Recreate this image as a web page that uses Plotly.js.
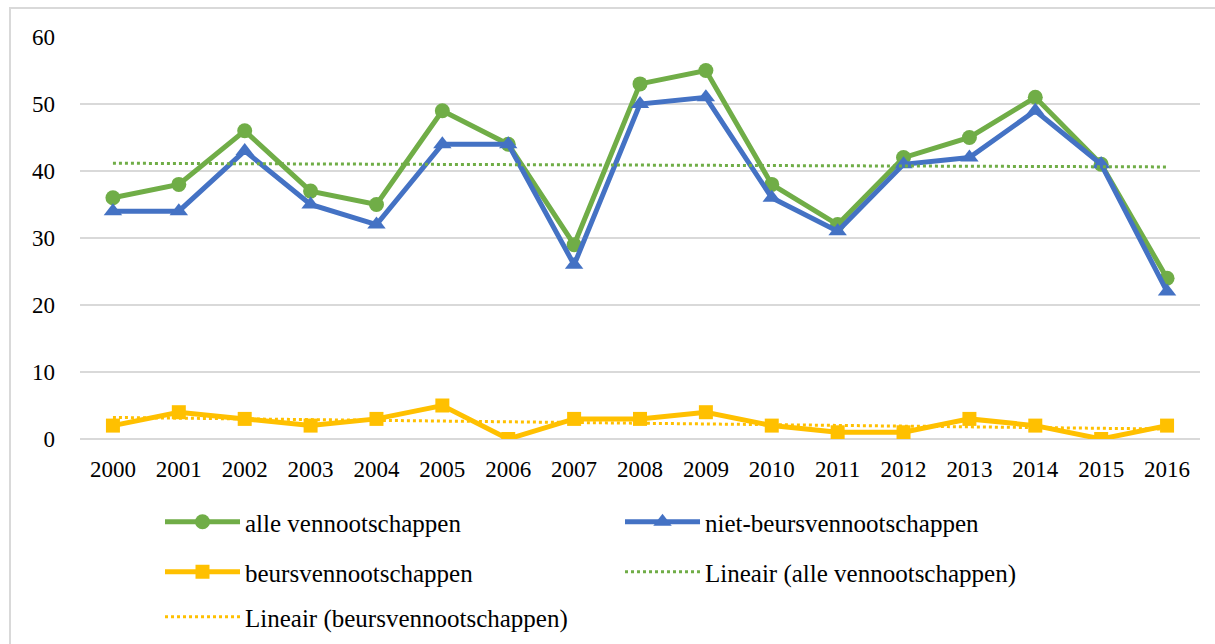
<!DOCTYPE html>
<html>
<head>
<meta charset="utf-8">
<script src="https://cdn.plot.ly/plotly-3.0.1.min.js"></script>
<style>
  html, body { margin: 0; padding: 0; background: #ffffff; }
  #frame { position: absolute; left: 9px; top: 7px; width: 1220px; height: 650px;
           border-left: 2px solid #d9d9d9; border-top: 2px solid #d9d9d9; pointer-events: none; }
  #chart { position: absolute; left: 0; top: 0; width: 1215px; height: 644px; }
</style>
</head>
<body>
<div id="chart"></div>
<div id="frame"></div>
<script>
const years = ["2000","2001","2002","2003","2004","2005","2006","2007","2008","2009","2010","2011","2012","2013","2014","2015","2016"];
const alleVennootschappen = [36, 38, 46, 37, 35, 49, 44, 29, 53, 55, 38, 32, 42, 45, 51, 41, 24];
const nietBeursvennootschappen = [34, 34, 43, 35, 32, 44, 44, 26, 50, 51, 36, 31, 41, 42, 49, 41, 22];
const beursvennootschappen = [2, 4, 3, 2, 3, 5, 0, 3, 3, 4, 2, 1, 1, 3, 2, 0, 2];
const yTicks = [0, 10, 20, 30, 40, 50, 60];

// Least-squares linear trendline (as Excel's "Lineair" trendline)
function linearTrend(vals) {
  const n = vals.length;
  let sx = 0, sy = 0, sxx = 0, sxy = 0;
  for (let i = 0; i < n; i++) { const x = i + 1; sx += x; sy += vals[i]; sxx += x * x; sxy += x * vals[i]; }
  const b = (n * sxy - sx * sy) / (n * sxx - sx * sx);
  const a = (sy - b * sx) / n;
  return vals.map((_, i) => a + b * (i + 1));
}

const GREEN = '#70AD47', BLUE = '#4472C4', YELLOW = '#FFC000';
const FONT = "'Liberation Serif', 'Times New Roman', serif";

const traces = [
  { x: years, y: alleVennootschappen, name: 'alle vennootschappen', type: 'scatter', mode: 'lines+markers',
    line: { color: GREEN, width: 5 }, marker: { symbol: 'circle', size: 15, color: GREEN }, legend: 'legend' },
  { x: years, y: nietBeursvennootschappen, name: 'niet-beursvennootschappen', type: 'scatter', mode: 'lines+markers',
    line: { color: BLUE, width: 5 }, marker: { symbol: 'triangle-up', size: 16, color: BLUE }, legend: 'legend' },
  { x: years, y: beursvennootschappen, name: 'beursvennootschappen', type: 'scatter', mode: 'lines+markers',
    line: { color: YELLOW, width: 5 }, marker: { symbol: 'square', size: 14, color: YELLOW }, legend: 'legend2' },
  { x: years, y: linearTrend(alleVennootschappen), name: 'Lineair (alle vennootschappen)', type: 'scatter', mode: 'lines',
    line: { color: GREEN, width: 3, dash: 'dot' }, legend: 'legend2' },
  { x: years, y: linearTrend(beursvennootschappen), name: 'Lineair (beursvennootschappen)', type: 'scatter', mode: 'lines',
    line: { color: YELLOW, width: 3, dash: 'dot' }, legend: 'legend3' }
];

const legendBase = {
  orientation: 'h', xref: 'container', yref: 'container', xanchor: 'left', yanchor: 'middle',
  font: { family: FONT, size: 25, color: '#000000' }, bgcolor: 'rgba(0,0,0,0)',
  entrywidth: 370, entrywidthmode: 'pixels', itemwidth: 75, itemclick: false, traceorder: 'normal'
};

const layout = {
  width: 1215, height: 644,
  paper_bgcolor: '#ffffff', plot_bgcolor: '#ffffff',
  margin: { l: 80, r: 15, t: 37, b: 205 },
  font: { family: FONT, size: 23, color: '#000000' },
  showlegend: true,
  xaxis: {
    type: 'category', range: [-0.5, 16.5], autorange: false,
    showgrid: false, zeroline: false, showline: false, ticks: '',
    ticklabelstandoff: 14, tickfont: { family: FONT, size: 23, color: '#000000' }
  },
  yaxis: {
    range: [0, 60], autorange: false, tickvals: yTicks, ticktext: yTicks.map(String),
    showgrid: true, gridcolor: '#d9d9d9', gridwidth: 1.5,
    zeroline: true, zerolinecolor: '#d9d9d9', zerolinewidth: 2,
    showline: false, ticks: '', ticklabelstandoff: 24,
    tickfont: { family: FONT, size: 23, color: '#000000' }
  },
  legend: Object.assign({}, legendBase, { x: 160 / 1215, y: 1 - 522 / 644 }),
  legend2: Object.assign({}, legendBase, { x: 160 / 1215, y: 1 - 572 / 644 }),
  legend3: Object.assign({}, legendBase, { x: 160 / 1215, y: 1 - 617 / 644 })
};

Plotly.newPlot('chart', traces, layout, { displayModeBar: false, staticPlot: true });
</script>
</body>
</html>
